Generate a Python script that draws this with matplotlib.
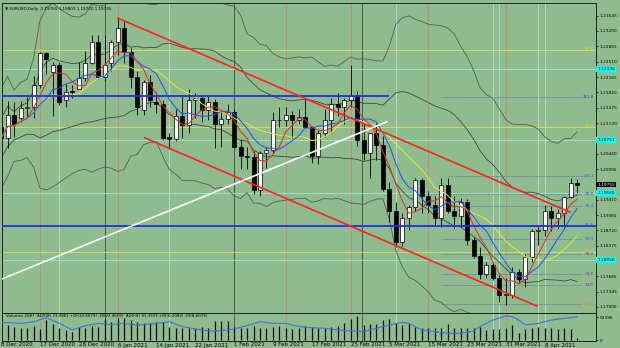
import numpy as np
import pandas as pd
import matplotlib
matplotlib.use("Agg")
import matplotlib.pyplot as plt
import matplotlib.transforms as mtransforms

# ---- daily EURUSD candles, 9 Dec 2020 .. 15 Apr 2021 (bar 0 = 17 Dec) ----
bar_idx = np.arange(-6, 84)
opens = [1.2105, 1.2079, 1.2132, 1.2125, 1.2146, 1.2150, 1.2199, 1.2270, 1.2228, 1.2244,
         1.2165, 1.2185, 1.2190, 1.2214, 1.2248, 1.2295, 1.2217, 1.2248, 1.2295, 1.2327,
         1.2273, 1.2217, 1.2142, 1.2205, 1.2160, 1.2156, 1.2082, 1.2078, 1.2128, 1.2108,
         1.2165, 1.2170, 1.2142, 1.2160, 1.2112, 1.2123, 1.2137, 1.2060, 1.2040, 1.2036,
         1.1963, 1.2047, 1.2052, 1.2119, 1.2119, 1.2132, 1.2119, 1.2127, 1.2105, 1.2040,
         1.2090, 1.2120, 1.2155, 1.2150, 1.2165, 1.2175, 1.2075, 1.2047, 1.2090, 1.2063,
         1.1965, 1.1915, 1.1847, 1.1900, 1.1925, 1.1985, 1.1950, 1.1930, 1.1900, 1.1975,
         1.1915, 1.1905, 1.1935, 1.1850, 1.1815, 1.1775, 1.1795, 1.1765, 1.1728, 1.1728,
         1.1778, 1.1762, 1.1813, 1.1870, 1.1872, 1.1915, 1.1900, 1.1910, 1.1947, 1.1978]
highs = [1.2129, 1.2163, 1.2160, 1.2163, 1.2172, 1.2219, 1.2273, 1.2272, 1.2251, 1.2250,
         1.2200, 1.2198, 1.2250, 1.2276, 1.2311, 1.2310, 1.2310, 1.2300, 1.2349, 1.2345,
         1.2281, 1.2230, 1.2210, 1.2222, 1.2183, 1.2166, 1.2090, 1.2145, 1.2175, 1.2190,
         1.2180, 1.2175, 1.2175, 1.2168, 1.2140, 1.2155, 1.2145, 1.2078, 1.2060, 1.2050,
         1.2050, 1.2060, 1.2138, 1.2150, 1.2149, 1.2140, 1.2145, 1.2169, 1.2107, 1.2097,
         1.2145, 1.2170, 1.2180, 1.2170, 1.2243, 1.2185, 1.2113, 1.2091, 1.2113, 1.2085,
         1.1980, 1.1935, 1.1910, 1.1930, 1.1990, 1.1990, 1.1960, 1.1950, 1.1990, 1.1990,
         1.1950, 1.1945, 1.1942, 1.1857, 1.1835, 1.1800, 1.1800, 1.1772, 1.1764, 1.1790,
         1.1785, 1.1820, 1.1875, 1.1885, 1.1928, 1.1927, 1.1920, 1.1950, 1.1990, 1.1988]
lows = [1.2058, 1.2058, 1.2082, 1.2115, 1.2127, 1.2125, 1.2192, 1.2223, 1.2130, 1.2153,
        1.2150, 1.2170, 1.2190, 1.2208, 1.2245, 1.2212, 1.2207, 1.2229, 1.2265, 1.2249,
        1.2192, 1.2132, 1.2132, 1.2150, 1.2135, 1.2075, 1.2054, 1.2072, 1.2080, 1.2090,
        1.2124, 1.2115, 1.2120, 1.2058, 1.2060, 1.2112, 1.2058, 1.2010, 1.2010, 1.1953,
        1.1950, 1.2013, 1.2045, 1.2105, 1.2106, 1.2080, 1.2110, 1.2101, 1.2023, 1.2022,
        1.2081, 1.2090, 1.2130, 1.2110, 1.2150, 1.2062, 1.2030, 1.1990, 1.2030, 1.1960,
        1.1892, 1.1835, 1.1836, 1.1873, 1.1915, 1.1910, 1.1910, 1.1885, 1.1880, 1.1910,
        1.1875, 1.1880, 1.1840, 1.1810, 1.1763, 1.1765, 1.1760, 1.1712, 1.1704, 1.1720,
        1.1755, 1.1744, 1.1800, 1.1840, 1.1860, 1.1870, 1.1875, 1.1880, 1.1945, 1.1955]
closes = [1.2079, 1.2132, 1.2110, 1.2146, 1.2150, 1.2199, 1.2270, 1.2257, 1.2244, 1.2160,
          1.2182, 1.2184, 1.2214, 1.2248, 1.2295, 1.2216, 1.2244, 1.2295, 1.2327, 1.2273,
          1.2217, 1.2149, 1.2205, 1.2165, 1.2156, 1.2080, 1.2078, 1.2128, 1.2108, 1.2165,
          1.2170, 1.2142, 1.2160, 1.2112, 1.2123, 1.2137, 1.2060, 1.2040, 1.2036, 1.1963,
          1.2047, 1.2052, 1.2119, 1.2119, 1.2132, 1.2119, 1.2127, 1.2105, 1.2040, 1.2090,
          1.2120, 1.2155, 1.2150, 1.2165, 1.2175, 1.2075, 1.2047, 1.2090, 1.2063, 1.1965,
          1.1915, 1.1847, 1.1900, 1.1925, 1.1985, 1.1950, 1.1930, 1.1900, 1.1975, 1.1915,
          1.1905, 1.1935, 1.1850, 1.1815, 1.1775, 1.1795, 1.1765, 1.1728, 1.1728, 1.1778,
          1.1762, 1.1813, 1.1870, 1.1872, 1.1915, 1.1900, 1.1910, 1.1947, 1.1978, 1.1975]
volumes = [38700, 34800, 31000, 28600, 28600, 32500, 25500, 46400, 36400, 28600,
           23200, 19400, 31000, 28600, 33300, 31000, 48800, 41000, 51900, 51900,
           46400, 41000, 38700, 38700, 42600, 41000, 31000, 28600, 28600, 27100,
           27100, 31000, 27100, 44100, 44900, 44100, 31000, 28600, 28600, 33300,
           28600, 28600, 31000, 33300, 27100, 25500, 28600, 33300,
           31000, 27100, 27100, 31000, 33300, 38700, 48800, 56500, 34800, 36400,
           36400, 46400, 48800, 38700, 34800, 38700, 31000, 28600, 27100, 27100,
           27100, 36400, 27100, 27100, 28600, 27100, 31000, 23200, 25500, 25500,
           27100, 34800, 15500, 25500, 27100, 31000, 28600, 27100, 25500, 28600,
           25500, 5400]

# ADX line of the lower window, read at some bars
adx_bars = [-6, -3, -1, 1, 3, 5, 7, 9, 11, 13, 15, 18, 20, 22, 24, 26, 28, 30, 32, 34,
            36, 38, 40, 42, 44, 46, 48, 50, 52, 54, 56, 57, 59, 61, 63, 65, 67, 68, 70,
            72, 73, 74, 75, 77, 79, 81, 83]
adx_vals = [74, 69, 76, 93, 69, 42, 60, 69, 65, 69, 62, 69, 76, 56, 46, 38, 38, 46, 60,
            76, 69, 69, 56, 51, 49, 42, 38, 35, 49, 62, 74, 69, 42, 35, 28, 28, 37, 56,
            83, 100, 97, 83, 63, 69, 83, 90, 97]

# horizontal levels
blue_levels = [1.2174, 1.1882]
blue_ends = [53.8, 86.0]
yellow_levels = [1.22773, 1.21043, 1.18235]
cyan_levels = [1.22346, 1.20751, 1.19560, 1.18056]

# trend / channel lines (bar, price)
red_upper = ([12, 81.9], [1.2349, 1.1913])
red_lower = ([16.2, 76.8], [1.2080, 1.1702])
white_line = ([-6.2, 53.6], [1.1761, 1.2116])

# fibonacci labels on the right
fib_names = ['61.8', '161.8', '50.0', '138.2', '88.6', '76.4', '61.8', '50.0', '61.8',
             '38.2', '23.6', '14.6', '100.0']
fib_prices = [1.22795, 1.21720, 1.21065, 1.19935, 1.19530, 1.19260, 1.18850, 1.18520,
              1.18260, 1.18190, 1.17740, 1.17490, 1.17070]
fib_start = [86, 62, 86, 63, 58, 63, 63, 62, 86, 62, 62, 62, 62]
fib_colors = ['#e0e000', '#2040ff', '#e0e000', '#4050ff', '#4050ff', '#4050ff', '#4050ff',
              '#4050ff', '#e0e000', '#7030c0', '#7030c0', '#7030c0', '#ff8020']

price_ticks = [1.17000, 1.17345, 1.17685, 1.18030, 1.18375, 1.18720, 1.19065, 1.19410,
               1.19755, 1.20095, 1.20440, 1.20785, 1.21130, 1.21475, 1.21820, 1.22165,
               1.22510, 1.22855, 1.23200, 1.23545]
hidden_ticks = [1.18030, 1.19755, 1.20785]

date_bars = [-6, 0, 6, 12, 18, 24, 30, 36, 42, 48, 54, 60, 66, 72, 78]
date_labels = ['8 Dec 2020', '17 Dec 2020', '28 Dec 2020', '6 Jan 2021', '14 Jan 2021',
               '22 Jan 2021', '1 Feb 2021', '9 Feb 2021', '17 Feb 2021', '25 Feb 2021',
               '5 Mar 2021', '15 Mar 2021', '23 Mar 2021', '31 Mar 2021', '8 Apr 2021']

orange_vlines = [0, 12, 38, 48, 60, 72]
gray_vlines = [10, 30, 49.8]
light_vlines = [3, 20, 55, 70, 71, 77, 78]

BG = '#8fbc8f'
W, H = 620, 348

fig = plt.figure(figsize=(W / 100, H / 100), dpi=100, facecolor=BG)
ax = fig.add_axes([2 / W, 1 - 313 / H, 594 / W, 310 / H], facecolor=BG)
axv = fig.add_axes([2 / W, 1 - 341 / H, 594 / W, 28 / H], facecolor=BG)
axa = axv.twinx()

xlim = (-5.87, 85.93)
ax.set_xlim(*xlim)
ax.set_ylim(1.16865, 1.23828)

# vertical separators
for b in orange_vlines:
    for a in (ax, axv):
        a.axvline(b, color='#d08060', lw=0.6, alpha=0.8, zorder=1)
for b in gray_vlines:
    for a in (ax, axv):
        a.axvline(b, color='#404840', lw=0.6, zorder=1)
for b in light_vlines:
    for a in (ax, axv):
        a.axvline(b, color='#b8e0c8', lw=0.6, zorder=1)

# horizontal levels
for lv in yellow_levels:
    ax.axhline(lv, color='#d8e060', lw=0.6, zorder=1)
for lv in cyan_levels:
    ax.axhline(lv, color='#a0e8c8', lw=0.6, zorder=1)

# indicators computed from the closes
s = pd.Series(closes, index=bar_idx)
ma_red = s.rolling(5, min_periods=1).mean()
ma_blue = s.rolling(8, min_periods=1).mean()
ma_yel = s.rolling(13, min_periods=1).mean()
ma_gray = s.rolling(21, min_periods=1).mean()
mid = s.rolling(20, min_periods=1).mean()
sd = s.rolling(20, min_periods=2).std().bfill()
ax.plot(bar_idx, mid + 3 * sd, color='#506050', lw=0.6, zorder=2)
ax.plot(bar_idx, mid - 3 * sd, color='#506050', lw=0.6, zorder=2)
ax.plot(bar_idx, ma_gray + 1.2 * sd, color='#404840', lw=0.6, zorder=2)
ax.plot(bar_idx, ma_gray - 1.2 * sd, color='#404840', lw=0.6, zorder=2)

# candles
o = np.array(opens); c = np.array(closes)
up = c >= o
ax.vlines(bar_idx, lows, highs, color='black', lw=0.6, zorder=3)
ax.bar(bar_idx, np.maximum(np.abs(c - o), 0.00008), bottom=np.minimum(o, c), width=0.62,
       color=np.where(up, 'white', 'black'), edgecolor='black', linewidth=0.5, zorder=4)

ax.plot(bar_idx, ma_yel, color='#e8e830', lw=0.7, zorder=5)
ax.plot(bar_idx, ma_blue, color='#2050ff', lw=0.7, zorder=5)
ax.plot(bar_idx, ma_red, color='#e03020', lw=0.7, zorder=5)

# support/resistance and channels
for lv, end in zip(blue_levels, blue_ends):
    ax.plot([xlim[0], end], [lv, lv], color='#2030e0', lw=1.3, zorder=6)
ax.plot(*red_upper, color='#ff2020', lw=1.2, zorder=6)
ax.plot(*red_lower, color='#ff2020', lw=1.2, zorder=6)
ax.plot(*white_line, color='white', lw=1.2, zorder=6)

# fibonacci levels
for name, p, st, col in zip(fib_names, fib_prices, fib_start, fib_colors):
    if st < 84:
        ax.plot([st, 83.8], [p, p], color='#6878b0', lw=0.6, ls=(0, (2, 1)), zorder=2)
    ax.text(85.6, p, name, color=col, fontsize=3.0, ha='right', va='center', zorder=7)

# right price axis
ax.yaxis.tick_right()
ax.set_yticks(price_ticks)
ax.set_yticklabels(['' if v in hidden_ticks else '%.5f' % v for v in price_ticks])
ax.tick_params(axis='y', labelsize=3.1, length=1.5, pad=1.2, colors='black', width=0.5)
ax.set_xticks([])
yt = mtransforms.blended_transform_factory(ax.transAxes, ax.transData)
for lv in cyan_levels:
    ax.text(1.002, lv, '%.5f' % lv, transform=yt, fontsize=3.1, va='center', ha='left',
            color='black', clip_on=False,
            bbox=dict(boxstyle='square,pad=0.2', fc='#00ffff', ec='none'))
ax.text(1.002, closes[-1], '%.5f' % 1.19755, transform=yt, fontsize=3.1, va='center',
        ha='left', color='white', clip_on=False,
        bbox=dict(boxstyle='square,pad=0.2', fc='black', ec='none'))
ax.text(0.005, 0.988, '\u25bc EURUSD,Daily  1.19765 1.19803 1.19720 1.19755',
        transform=ax.transAxes, fontsize=3.0, va='top', ha='left', color='black')

# volume window
axv.set_xlim(*xlim)
axv.set_ylim(-2300, 62700)
axv.vlines(bar_idx, 0, volumes, color='black', lw=0.9, zorder=3)
axv.set_yticks([])
axv.set_xticks([])
axa.set_ylim(-2300, 62700)
axa.set_yticks([0, 53396])
axa.set_yticklabels(['0', '53396'])
axa.tick_params(axis='y', labelsize=3.1, length=1.5, pad=1.2, width=0.5)
axd = axv.twinx()
axd.set_ylim(-4.2, 112.5)
axd.plot(adx_bars, adx_vals, color='#4070e0', lw=0.8, zorder=4)
axd.set_yticks([])
axv.text(0.006, 0.95, 'Volumes 2087  ADX(8) 73.0861 +DI(10.6079) -DI(22.0659)  '
         'ADX(8) 91.3333 +DI(6.2083) -DI(8.6079)', transform=axv.transAxes,
         fontsize=2.9, va='top', ha='left', color='black')

for a in (ax, axv, axa, axd):
    for sp in a.spines.values():
        sp.set_color('#202020')
        sp.set_linewidth(0.7)

dt = mtransforms.blended_transform_factory(axv.transData, fig.transFigure)
for b, lab in zip(date_bars, date_labels):
    fig.text(b, 1 - 345 / H, lab, transform=dt, fontsize=4.0, ha='left', va='center')

fig.savefig('out.png', dpi=100, facecolor=BG)
